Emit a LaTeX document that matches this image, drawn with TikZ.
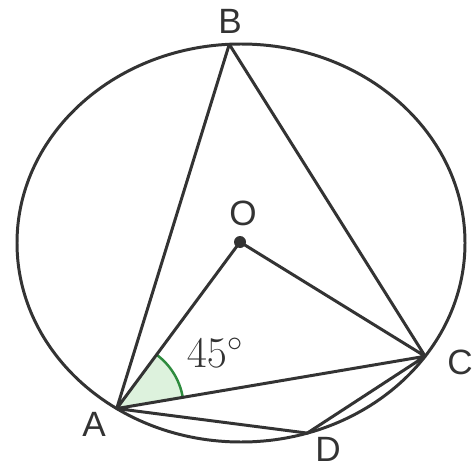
\documentclass[tikz,border=0pt]{standalone}
\usepackage{fontspec}
\setsansfont{Liberation Sans}
\usetikzlibrary{angles, calc}
\definecolor{linegray}{HTML}{333333}
\definecolor{anglegreen}{HTML}{2E8B3E}
\definecolor{anglefill}{HTML}{DDF2DD}

\tikzset{
  chord/.style={draw=linegray, line width=1.7pt, line join=round},
  ptlabel/.style={font=\sffamily\fontsize{20}{24}\selectfont, text=linegray, inner sep=0pt}
}

\begin{document}
\begin{tikzpicture}[x=0.02cm, y=0.02cm]
  \useasboundingbox (0,0) rectangle (476,467);
  % circle and points on it
  \coordinate (ctr) at (241,224);
  \coordinate (B) at ($(ctr)+(93:224 and 199)$);
  \coordinate (A) at ($(ctr)+(236.3:224 and 199)$);
  \coordinate (C) at ($(ctr)+(325.3:224 and 199)$);
  \coordinate (D) at ($(ctr)+(287.2:224 and 199)$);
  \coordinate (O) at (240,225);

  % angle at A
  \pic[draw=anglegreen, fill=anglefill, line width=1.4pt, angle radius=1.34cm] {angle = C--A--O};

  \draw[chord] (ctr) ellipse [x radius=224, y radius=199];
  \draw[chord] (A) -- (B) -- (C) -- (O) -- (A) -- (C) -- (D) -- (A);
  \fill[linegray] (O) circle (6);

  \node[ptlabel] (labB) at (230,446) {B};
  \node[ptlabel] (labO) at (243,254) {O};
  \node[ptlabel] (labA) at (94,43) {A};
  \node[ptlabel] (labC) at (460,105) {C};
  \node[ptlabel] (labD) at (328,18) {D};
  \node[font=\fontsize{25}{30}\selectfont, text=linegray] (ang) at (215,114) {$45^\circ$};
\end{tikzpicture}
\end{document}
